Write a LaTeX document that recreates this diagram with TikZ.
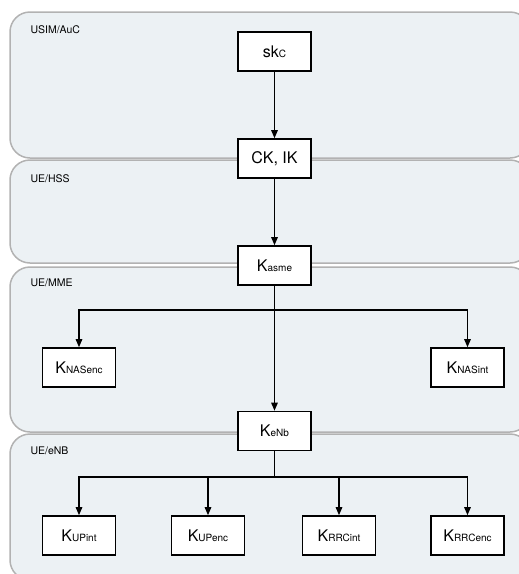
\documentclass[tikz,border=0pt]{standalone}
\usepackage{fontspec}
\setmainfont{TeX Gyre Heros}
\usetikzlibrary{arrows.meta,positioning}

\definecolor{zonefill}{HTML}{ECF1F4}
\definecolor{zoneline}{HTML}{B2B2B2}

\newcommand{\keyname}[2]{#1{\fontsize{10}{10}\selectfont #2}}

\tikzset{
  zone/.style={fill=zonefill,draw=zoneline,line width=1.5pt,rounded corners=20pt},
  zonelabel/.style={anchor=base west,font=\fontsize{10.5}{12}\selectfont},
  keybox/.style={draw,fill=white,line width=1.6pt,minimum width=73pt,minimum height=39pt,
    inner sep=0pt,font=\fontsize{16}{18}\selectfont},
  derive/.style={line width=1.2pt,-{Triangle[length=8pt,width=6.5pt]}}
}

\begin{document}
\begin{tikzpicture}[x=1pt,y=-1pt]

\useasboundingbox (0,0) rectangle (519,574);
\clip (0,0) rectangle (519,574);

% Draw the zones
\draw[zone] (10,12) rectangle (530,158);
\draw[zone] (10,160) rectangle (530,263);
\draw[zone] (10,267) rectangle (530,432);
\draw[zone] (10,434) rectangle (530,580);

\node[zonelabel] (usim) at (27,33) {USIM/AuC};
\node[zonelabel] (hss) at (27,182) {UE/HSS};
\node[zonelabel] (mme) at (27,286) {UE/MME};
\node[zonelabel] (enb) at (27,454) {UE/eNB};

% Draw the keys
\node[keybox] (skc) at (274.5,51.5) {\keyname{sk}{C}};
\node[keybox] (ckik) at (274.5,158.5) {CK, IK};
\node[keybox] (kasme) at (274.5,265.5) {\keyname{K}{asme}};
\node[keybox] (knasenc) at (79,367.5) {\keyname{K}{NASenc}};
\node[keybox] (knasint) at (467.5,367.5) {\keyname{K}{NASint}};
\node[keybox] (kenb) at (274.5,431) {\keyname{K}{eNb}};
\node[keybox] (kupint) at (79,535.5) {\keyname{K}{UPint}};
\node[keybox] (kupenc) at (208,535.5) {\keyname{K}{UPenc}};
\node[keybox] (krrcint) at (339,535.5) {\keyname{K}{RRCint}};
\node[keybox] (krrcenc) at (467.5,535.5) {\keyname{K}{RRCenc}};

% branch points
\coordinate (mmesplit) at (274.5,310);
\coordinate (enbsplit) at (274.5,477);

% Draw the derivations
\draw[derive] (skc) -- (ckik);
\draw[derive] (ckik) -- (kasme);
\draw[derive] (kasme) -- (kenb);
\draw[derive] (mmesplit) -| (knasenc);
\draw[derive] (mmesplit) -| (knasint);
\draw[line width=1.2pt] (kenb) -- (enbsplit);
\draw[derive] (enbsplit) -| (kupint);
\draw[derive] (enbsplit) -| (kupenc);
\draw[derive] (enbsplit) -| (krrcint);
\draw[derive] (enbsplit) -| (krrcenc);

\end{tikzpicture}
\end{document}
